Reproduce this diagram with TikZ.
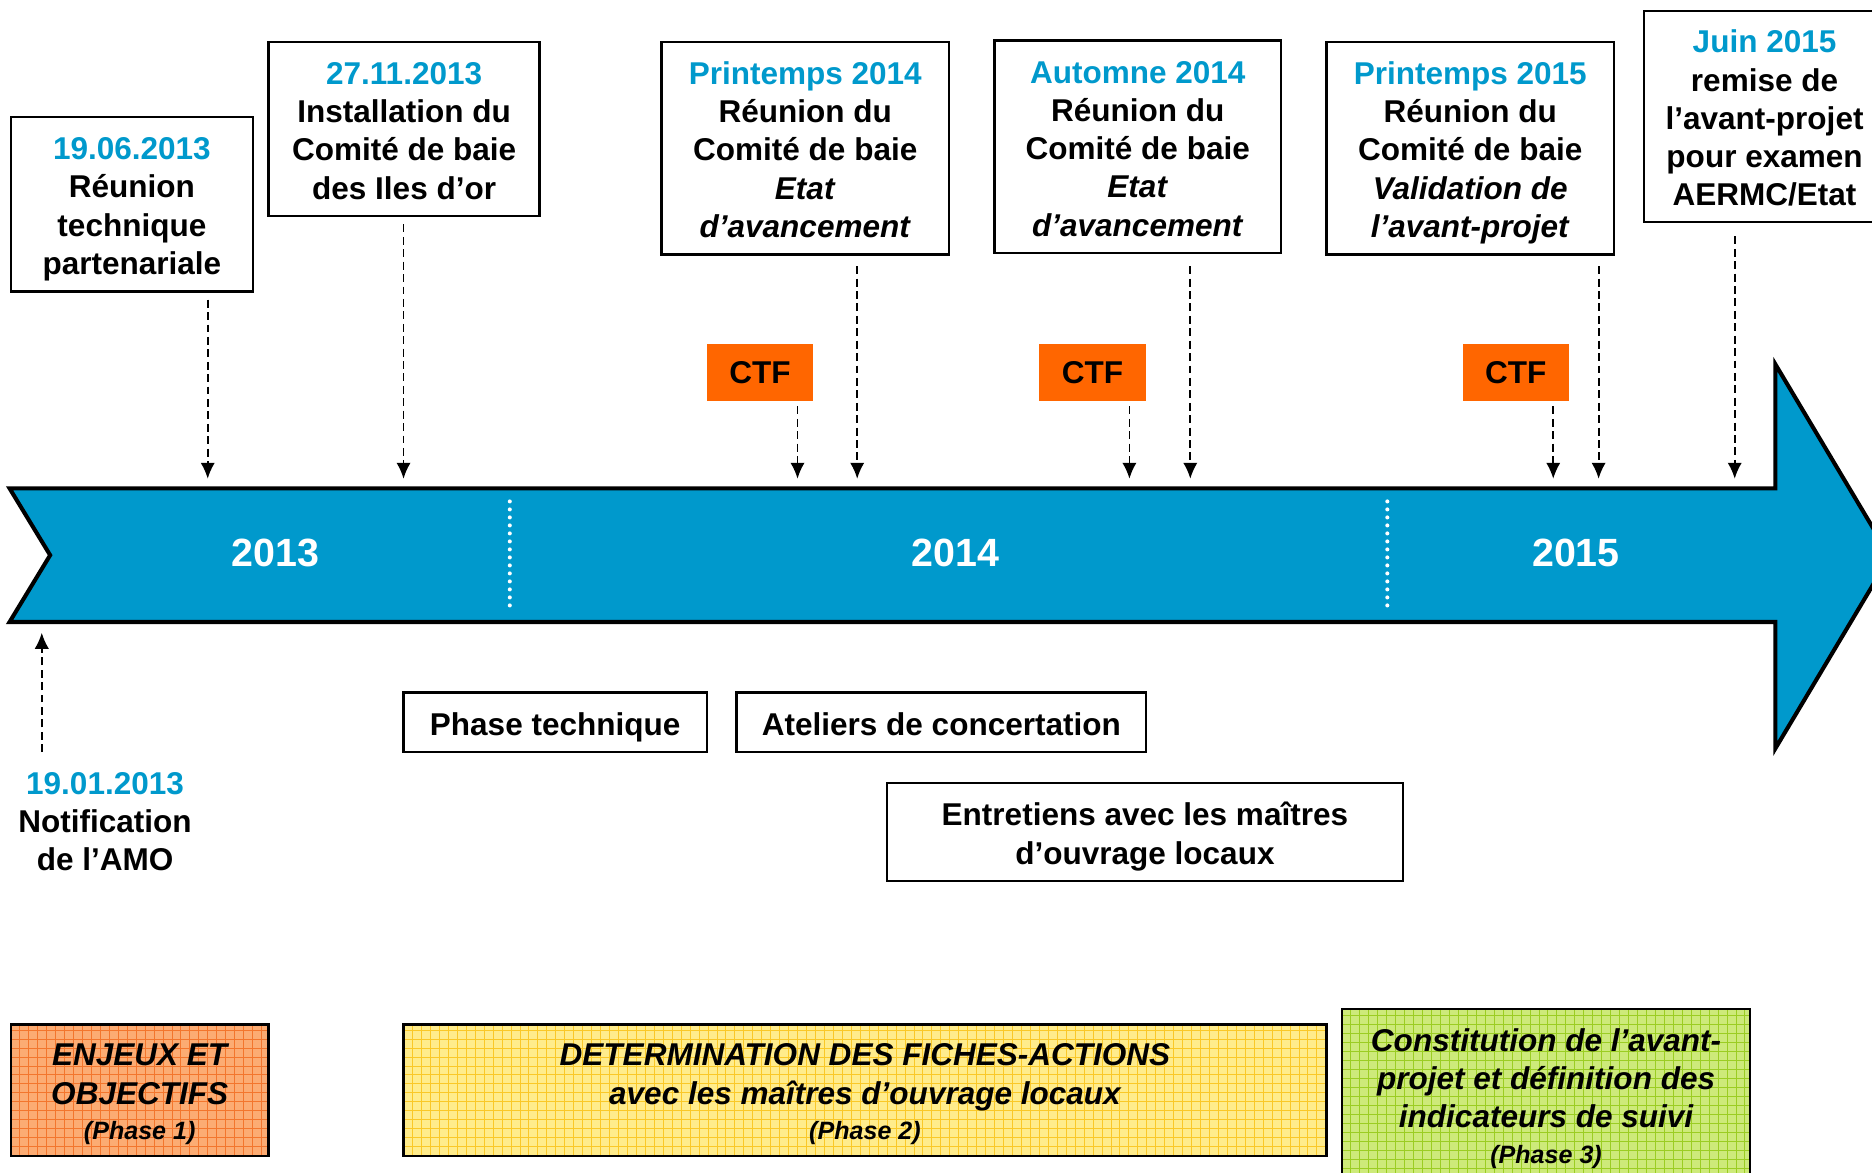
\documentclass[tikz,border=0pt]{standalone}
\usepackage{fontspec}
\setmainfont{Liberation Sans}
\usetikzlibrary{arrows.meta,calc}
\definecolor{tblue}{RGB}{0,153,204}
\definecolor{ctforange}{RGB}{255,102,0}
\definecolor{p1fill}{RGB}{252,172,115}
\definecolor{p1line}{RGB}{243,118,45}
\definecolor{p2fill}{RGB}{255,236,140}
\definecolor{p2line}{RGB}{250,200,40}
\definecolor{p3fill}{RGB}{205,234,122}
\definecolor{p3line}{RGB}{155,205,35}
\begin{document}
\begin{tikzpicture}[x=0.5pt,y=-0.5pt,
  struts/.style={execute at begin node={\rule{0pt}{15.6pt}}, execute at end node={\strut}},
  evt/.style={draw=black, line width=1pt, fill=white, align=flush center, inner sep=0pt,
    font=\bfseries\fontsize{13.2}{16}\selectfont, struts},
  box/.style 2 args={text width=#1, minimum height=#2},
  ctfbox/.style={fill=ctforange, inner sep=0pt, minimum width=44.5pt, minimum height=24pt,
    font=\bfseries\fontsize{13.2}{16}\selectfont},
  dar/.style={draw=black, line width=0.75pt, dash pattern=on 3.3pt off 1.9pt,
    -{Latex[length=6.7pt,width=6pt]}},
  year/.style={text=white, font=\bfseries\fontsize{16.5}{20}\selectfont},
  sep/.style={draw=white, line width=1.7pt, dash pattern=on 0pt off 3.35pt, line cap=round},
  phase/.style={draw=black, line width=1pt, align=flush center, inner sep=0pt,
    font=\bfseries\itshape\fontsize{13.2}{16}\selectfont, struts},
  grid1/.style={path picture={\draw[#1, line width=0.35pt, step=3.75pt]
    (path picture bounding box.south west) grid (path picture bounding box.north east);}}
]
\useasboundingbox (0,0) rectangle (1568,982);
\clip (0,0) rectangle (1568,982);

% main arrow
\filldraw[fill=tblue, draw=black, line width=1.7pt, line join=miter]
  (8,409) -- (1487,409) -- (1487,305) -- (1583,466) -- (1487,627) -- (1487,521)
  -- (8,521) -- (42,465) -- cycle;
\draw[sep] (427,420) -- (427,509);
\draw[sep] (1162,420) -- (1162,509);
\node[year] (y13) at (231,463) {2013};
\node[year] (y14) at (800,463) {2014};
\node[year] (y15) at (1320,463) {2015};

% event boxes
\node[evt, box={101.5pt}{73pt}] (b1) at (110.5,171)
  {{\color{tblue}19.06.2013}\\Réunion\\technique\\partenariale};
\node[evt, box={113.5pt}{73pt}] (b2) at (338.5,108)
  {{\color{tblue}27.11.2013}\\Installation du\\Comité de baie\\des Iles d’or};
\node[evt, box={120.5pt}{89pt}] (b3) at (674.5,124)
  {{\color{tblue}Printemps 2014}\\Réunion du\\Comité de baie\\\textit{Etat}\\\textit{d’avancement}};
\node[evt, box={120pt}{89pt}] (b4) at (953,123)
  {{\color{tblue}Automne 2014}\\Réunion du\\Comité de baie\\\textit{Etat}\\\textit{d’avancement}};
\node[evt, box={120.5pt}{89pt}] (b5) at (1231.5,124)
  {{\color{tblue}Printemps 2015}\\Réunion du\\Comité de baie\\\textit{Validation de}\\\textit{l’avant-projet}};
\node[evt, box={101pt}{88.5pt}] (b6) at (1478,97.5)
  {{\color{tblue}Juin 2015}\\remise de\\l’avant-projet\\pour examen\\AERMC/Etat};

% CTF boxes
\node[ctfbox] (c1) at (636.5,312) {CTF};
\node[ctfbox] (c2) at (915,312) {CTF};
\node[ctfbox] (c3) at (1269.5,312) {CTF};

% arrow targets on the timeline
\coordinate (t1) at (174,401);
\coordinate (t2) at (338,401);
\coordinate (t3) at (668,401);
\coordinate (t4) at (718,401);
\coordinate (t5) at (946,401);
\coordinate (t6) at (997,401);
\coordinate (t7) at (1301,401);
\coordinate (t8) at (1339,401);
\coordinate (t9) at (1453,401);

\draw[dar] ($(b1.south -| t1)+(0,6)$) -- (t1);
\draw[dar] ($(b2.south -| t2)+(0,6)$) -- (t2);
\draw[dar] ($(c1.south -| t3)+(0,4)$) -- (t3);
\draw[dar] ($(b3.south -| t4)+(0,9)$) -- (t4);
\draw[dar] ($(c2.south -| t5)+(0,4)$) -- (t5);
\draw[dar] ($(b4.south -| t6)+(0,10)$) -- (t6);
\draw[dar] ($(c3.south -| t7)+(0,4)$) -- (t7);
\draw[dar] ($(b5.south -| t8)+(0,9)$) -- (t8);
\draw[dar] ($(b6.south -| t9)+(0,11)$) -- (t9);

% notification
\node[align=center, inner sep=0pt, font=\bfseries\fontsize{13.2}{16}\selectfont] (notif) at (88,688)
  {{\color{tblue}19.01.2013}\\Notification\\de l’AMO};
\coordinate (n0) at (35,630);
\coordinate (n1) at (35,530);
\draw[dar] (n0) -- (n1);

% middle boxes
\node[evt, box={127pt}{25pt}] (pt) at (465,605) {Phase technique};
\node[evt, box={171.5pt}{25pt}] (at) at (788.5,605) {Ateliers de concertation};
\node[evt, box={216pt}{41pt}] (en) at (959,697)
  {Entretiens avec les maîtres\\d’ouvrage locaux};

% phase boxes
\node[phase, fill=p1fill, grid1=p1line, box={108pt}{55pt}]
  (p1) at (117,913) {ENJEUX ET\\OBJECTIFS\\[-1pt]{\fontsize{10.5}{13}\selectfont (Phase 1)}};
\node[phase, fill=p2fill, grid1=p2line, box={386.5pt}{55pt}]
  (p2) at (724.5,913) {DETERMINATION DES FICHES-ACTIONS\\avec les maîtres d’ouvrage locaux\\[-1pt]{\fontsize{10.5}{13}\selectfont (Phase 2)}};
\node[phase, fill=p3fill, grid1=p3line, box={171pt}{72pt}]
  (p3) at (1295,917) {Constitution de l’avant-\\projet et définition des\\indicateurs de suivi\\[-1pt]{\fontsize{10.5}{13}\selectfont (Phase 3)}};
\end{tikzpicture}
\end{document}
